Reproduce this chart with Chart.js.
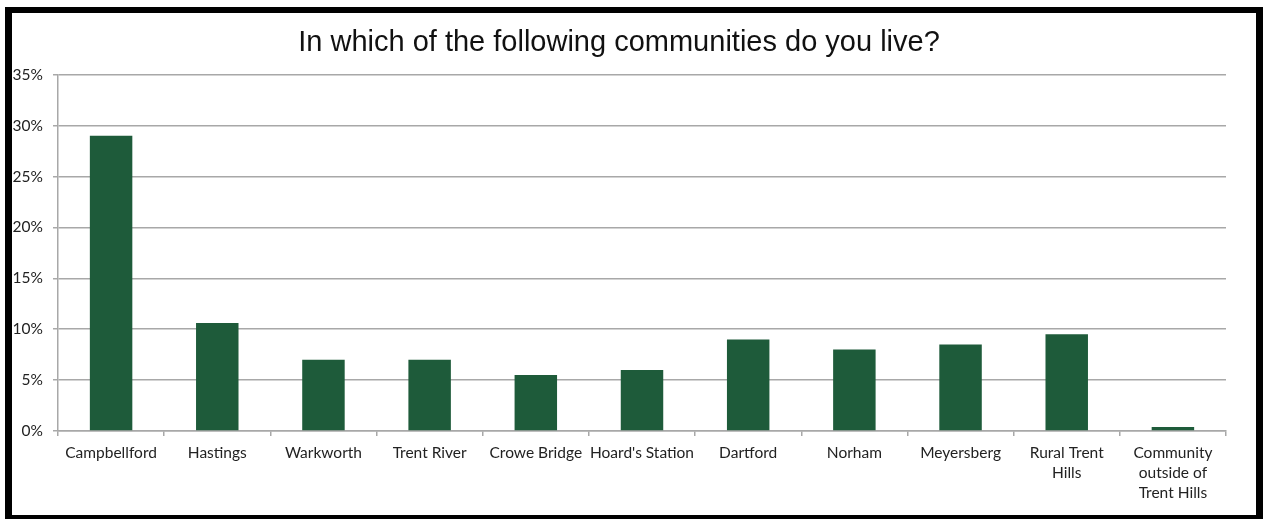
<!DOCTYPE html>
<html>
<head>
<meta charset="utf-8">
<script src="https://cdn.jsdelivr.net/npm/chart.js@4.4.1/dist/chart.umd.min.js"></script>
<style>
  html, body { margin: 0; padding: 0; background: #fff; }
  #wrap { position: relative; width: 1263px; height: 519px; }
  #frame {
    position: absolute; left: 5px; top: 7px; width: 1258px; height: 512px;
    box-sizing: border-box; border: 7px solid #000; border-top-width: 6px; border-bottom-width: 4px;
    pointer-events: none;
  }
</style>
</head>
<body>
<div id="wrap">
  <canvas id="communityChart" width="1263" height="519"></canvas>
  <div id="frame"></div>
</div>
<script>
const communities = [
    'Campbellford', 'Hastings', 'Warkworth', 'Trent River', 'Crowe Bridge',
    "Hoard's Station", 'Dartford', 'Norham', 'Meyersberg',
    ['Rural Trent', 'Hills'], ['Community', 'outside of', 'Trent Hills']
];
const residentShare = [29.0, 10.6, 7.0, 7.0, 5.5, 6.0, 9.0, 8.0, 8.5, 9.5, 0.4];
const yTicks = [0, 5, 10, 15, 20, 25, 30, 35];

const labelFont = { family: 'Lato, "Open Sans", sans-serif', size: 15.5, lineHeight: 1.3 };
const gridGrey = '#a8a8a8';

const ctx = document.getElementById('communityChart');

new Chart(ctx, {
    type: 'bar',
    data: {
        labels: communities,
        datasets: [{
            label: 'Share of respondents',
            data: residentShare,
            backgroundColor: '#1e5b3a',
            borderWidth: 0,
            barPercentage: 0.4,
            categoryPercentage: 1.0
        }]
    },
    options: {
        responsive: false,
        animation: false,
        layout: { padding: { left: 12, right: 37, top: 0, bottom: 0 } },
        plugins: {
            legend: { display: false },
            tooltip: { enabled: false },
            title: {
                display: true,
                text: 'In which of the following communities do you live?',
                color: '#111',
                font: { family: '"Liberation Sans", Arial, sans-serif', size: 29, weight: 'normal', lineHeight: 1.2 },
                padding: { top: 26, bottom: 14 }
            }
        },
        scales: {
            x: {
                grid: {
                    display: true,
                    drawOnChartArea: false,
                    offset: true,
                    color: gridGrey,
                    lineWidth: 1.5,
                    tickLength: 5
                },
                border: { display: true, color: gridGrey, width: 1.5 },
                ticks: {
                    color: '#222',
                    font: labelFont,
                    padding: 7,
                    maxRotation: 0,
                    autoSkip: false
                },
                afterFit: scale => { scale.height = 88; }
            },
            y: {
                min: 0,
                max: 35,
                afterBuildTicks: scale => { scale.ticks = yTicks.map(v => ({ value: v })); },
                grid: {
                    color: gridGrey,
                    lineWidth: 1.5,
                    tickLength: 5
                },
                border: { display: true, color: gridGrey, width: 1.5 },
                ticks: {
                    color: '#222',
                    font: { family: labelFont.family, size: 15.5 },
                    padding: 10,
                    callback: v => v + '%'
                },
                afterFit: scale => { scale.width = 46; }
            }
        }
    }
});
</script>
</body>
</html>
